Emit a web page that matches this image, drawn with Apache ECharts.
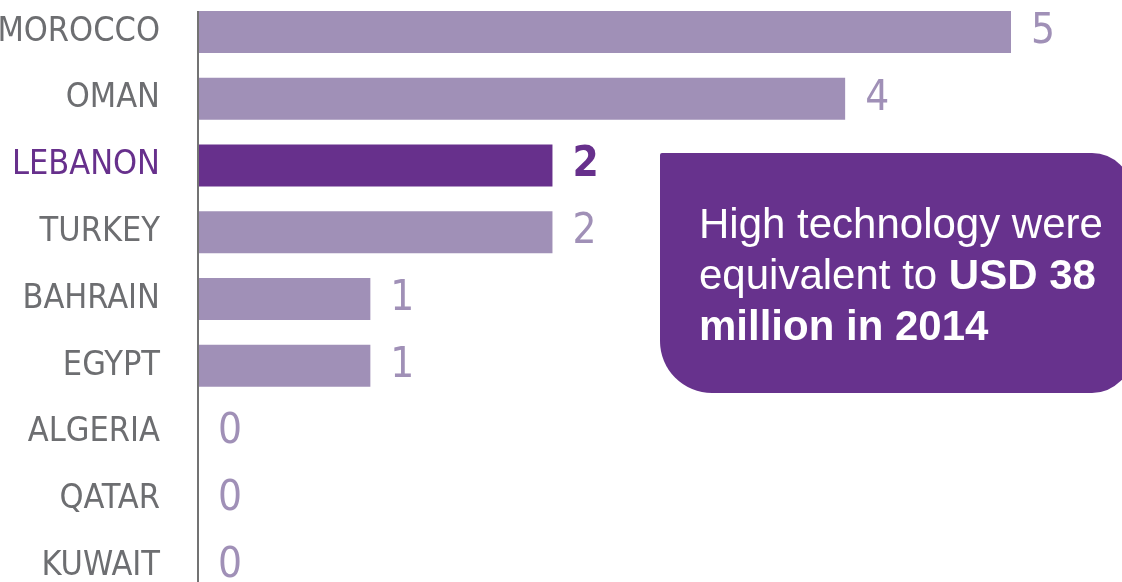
<!DOCTYPE html>
<html>
<head>
<meta charset="utf-8">
<script src="https://cdn.jsdelivr.net/npm/echarts@6/dist/echarts.min.js"></script>
<style>html,body{margin:0;padding:0;background:#fff;}#c{width:1122px;height:582px;}</style>
</head>
<body>
<div id="c"></div>
<script>
const categories = ['MOROCCO','OMAN','LEBANON','TURKEY','BAHRAIN','EGYPT','ALGERIA','QATAR','KUWAIT'];
const values = [5.0, 3.98, 2.18, 2.18, 1.06, 1.06, 0, 0, 0];
const highlight = 'LEBANON';
const calloutLines = ['High technology were', 'equivalent to ', 'USD 38', 'million in 2014'];

const LIGHT = '#a090b7', DARK = '#67308c', GRAY = '#6d6e71';
const condensed = '"Liberation Sans Narrow", "DejaVu Sans Condensed", sans-serif';

const chart = echarts.init(document.getElementById('c'));
const option = {
  animation: false,
  grid: {left: 198, top: -1.5, width: 813, height: 601, containLabel: false, outerBoundsMode: 'none'},
  xAxis: {type: 'value', min: 0, max: 5, show: false},
  yAxis: {
    type: 'category', inverse: true, data: categories,
    axisLine: {show: false}, axisTick: {show: false},
    axisLabel: {
      margin: 38, fontFamily: condensed, fontSize: 34, padding: [6, 0, 0, 0],
      color: function (v) { return v === highlight ? DARK : GRAY; }
    }
  },
  series: [{
    type: 'bar', barWidth: 42,
    data: values.map(function (v, i) {
      const hl = categories[i] === highlight;
      return {
        value: v,
        itemStyle: {color: hl ? DARK : LIGHT},
        label: {color: hl ? DARK : LIGHT, fontWeight: hl ? 'bold' : 'normal'}
      };
    }),
    label: {
      show: true, position: 'right', distance: 20,
      fontFamily: condensed, fontSize: 42, padding: [6, 0, 0, 0],
      formatter: function (p) { return String(Math.round(p.value)); }
    }
  }]
};
chart.setOption(option);

const top0 = chart.convertToPixel({yAxisIndex: 0}, categories[0]) - 21;
const boxFont = '"Liberation Sans", Arial, sans-serif';
chart.setOption({
  graphic: [
    {type: 'line', shape: {x1: 198, y1: top0, x2: 198, y2: 582}, style: {stroke: '#737373', lineWidth: 2}, z: 10},
    {type: 'rect', shape: {x: 660, y: 153, width: 472, height: 240, r: [2, 40, 40, 52]}, style: {fill: '#67328d'}, z: 5},
    {type: 'text', left: 699, top: 205, z: 6,
     style: {
       text: '{n|' + calloutLines[0] + '}\n{n|' + calloutLines[1] + '}{b|' + calloutLines[2] + '}\n{b|' + calloutLines[3] + '}',
       fill: '#fff',
       rich: {
         n: {fontFamily: boxFont, fontSize: 42, fill: '#fff', lineHeight: 51},
         b: {fontFamily: boxFont, fontSize: 42, fontWeight: 'bold', fill: '#fff', lineHeight: 51}
       }
     }}
  ]
});
</script>
</body>
</html>
